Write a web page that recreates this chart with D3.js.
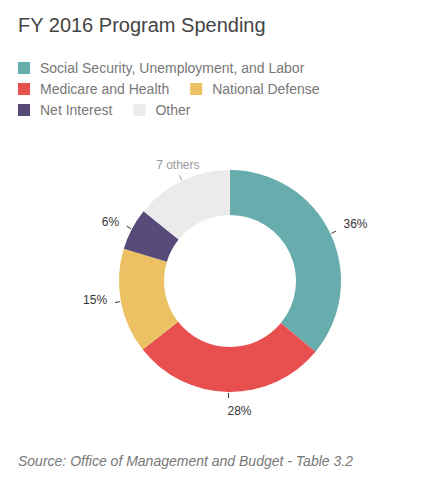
<!DOCTYPE html>
<html><head><meta charset="utf-8">
<script src="https://cdn.jsdelivr.net/npm/d3@7"></script>
<style>
body{margin:0;background:#fff;font-family:"Liberation Sans",Arial,sans-serif;}
</style></head>
<body><svg id="c" width="448" height="481"></svg>
<script>
const categories = ["Social Security, Unemployment, and Labor","Medicare and Health","National Defense","Net Interest","Other"];
const values = [36.0, 28.4, 15.3, 6.1, 14.2];
const labels = ["36%","28%","15%","6%","7 others"];
const colors = ["#68adad","#e8504f","#ebc163","#574b7a","#ebebeb"];
const legendRows = [[0],[1,2],[3,4]];

const svg = d3.select("#c");
svg.append("text").attr("x",18).attr("y",32).attr("font-size",20).attr("fill","#444").text("FY 2016 Program Spending");

// legend
legendRows.forEach((row,ri)=>{
  let x = 18;
  const y = 68 + ri*21;
  row.forEach(i=>{
    svg.append("rect").attr("x",x).attr("y",y-6).attr("width",12).attr("height",12).attr("fill",colors[i]);
    const t = svg.append("text").attr("x",x+22).attr("y",y).attr("dy","0.35em").attr("font-size",14).attr("fill","#777").text(categories[i]);
    x += 22 + t.node().getComputedTextLength() + 21;
  });
});

const cx = 230, cy = 281, R = 111, r0 = 66;
const g = svg.append("g").attr("transform",`translate(${cx},${cy})`);
const pie = d3.pie().sort(null).value(d=>d)(values);
const arc = d3.arc().innerRadius(r0).outerRadius(R);
g.selectAll("path").data(pie).join("path").attr("d",arc).attr("fill",(d,i)=>colors[i]);

pie.forEach((d,i)=>{
  const a = (d.startAngle+d.endAngle)/2;
  const s = Math.sin(a), c = -Math.cos(a);
  g.append("line").attr("x1",s*112).attr("y1",c*112).attr("x2",s*117).attr("y2",c*117)
    .attr("stroke", i===4?"#999":"#333").attr("stroke-width",1);
  const deg = a*180/Math.PI;
  const px = s*121, py = c*121;
  const t = g.append("text").attr("font-size",12).attr("fill", i===4?"#999":"#333").text(labels[i]);
  if (deg < 160) { t.attr("x",px+4).attr("y",py-6).attr("dy","0.35em").attr("text-anchor","start"); }
  else if (deg < 200) { t.attr("x",px-1).attr("y",py+3).attr("dy","0.8em").attr("text-anchor","start"); }
  else if (deg < 320) { t.attr("x",px-4).attr("y",py-3).attr("dy","0.35em").attr("text-anchor","end"); }
  else { t.attr("x",px).attr("y",py-3).attr("text-anchor","middle"); }
});

svg.append("text").attr("x",18).attr("y",466).attr("font-size",14).attr("font-style","italic").attr("fill","#777")
  .text("Source: Office of Management and Budget - Table 3.2");
</script></body></html>
